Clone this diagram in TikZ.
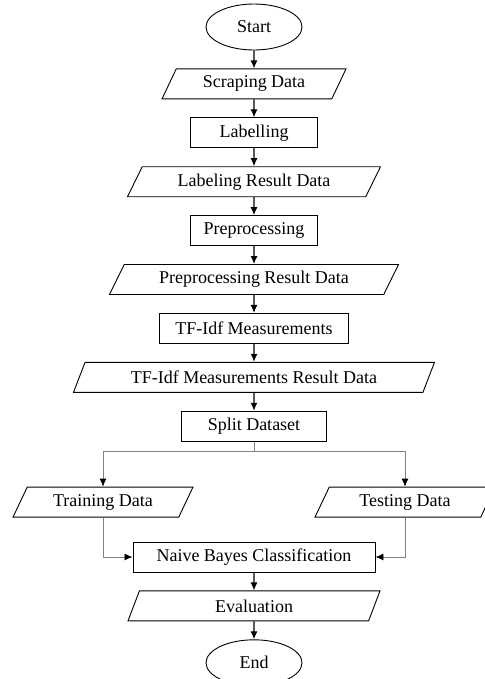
\documentclass[tikz,border=0pt]{standalone}
\usepackage{fontspec}
\setmainfont{Liberation Serif}
\usetikzlibrary{matrix,shapes.geometric,arrows.meta}

\begin{document}
\begin{tikzpicture}[x=1pt,y=1pt,font=\fontsize{18pt}{20pt}\selectfont,
  terminal/.style={ellipse,draw,line width=0.9pt,minimum width=96pt,minimum height=46pt,inner sep=0pt},
  process/.style={rectangle,draw,line width=0.9pt,minimum width=#1,minimum height=30pt,inner sep=0pt},
  data/.style={trapezium,trapezium left angle=48,trapezium right angle=132,trapezium stretches body,
    draw,line width=0.9pt,minimum width=#1,minimum height=30pt,inner sep=0pt},
  flow/.style={-{Latex[length=8pt,width=7pt]},line width=1.2pt},
  branch/.style={-{Latex[length=8pt,width=7pt,black]},line width=0.8pt,draw=gray}]
  \useasboundingbox (0,0) rectangle (484,-679);
  \matrix (m) [matrix of nodes, nodes={anchor=center}, row sep=18pt, column sep={151pt,between origins},
    matrix anchor=m-1-2.center] at (254,-27) {
	& |[terminal]| Start & \\
	& |[data=184pt]| Scraping Data & \\
	& |[process=127pt]| Labelling & \\
	& |[data=253pt]| Labeling Result Data & \\
	& |[process=127pt]| Preprocessing & \\
	& |[data=289pt]| Preprocessing Result Data & \\
	& |[process=189pt]| TF-Idf Measurements & \\
	& |[data=361pt]| TF-Idf Measurements Result Data & \\
	& |[process=145pt]| Split Dataset & \\[27pt]
	|[data=180pt]| Training Data & & |[data=180pt]| Testing Data \\[6pt]
	& |[process=242pt]| Naive Bayes Classification & \\
	& |[data=252pt]| Evaluation & \\
	& |[terminal]| End & \\
  };
  \path[flow]
  	(m-1-2) edge (m-2-2)
  	(m-2-2) edge (m-3-2)
  	(m-3-2) edge (m-4-2)
  	(m-4-2) edge (m-5-2)
  	(m-5-2) edge (m-6-2)
  	(m-6-2) edge (m-7-2)
  	(m-7-2) edge (m-8-2)
  	(m-8-2) edge (m-9-2)
  	(m-11-2) edge (m-12-2)
  	(m-12-2) edge (m-13-2)
  ;
  % split into training and testing
  \coordinate (fork) at ([yshift=-10pt]m-9-2.south);
  \draw[branch,-] (m-9-2) -- (fork);
  \draw[branch] (fork) -| (m-10-1);
  \draw[branch] (fork) -| (m-10-3);
  \draw[branch] (m-10-1) |- (m-11-2);
  \draw[branch] (m-10-3) |- (m-11-2);
\end{tikzpicture}
\end{document}
